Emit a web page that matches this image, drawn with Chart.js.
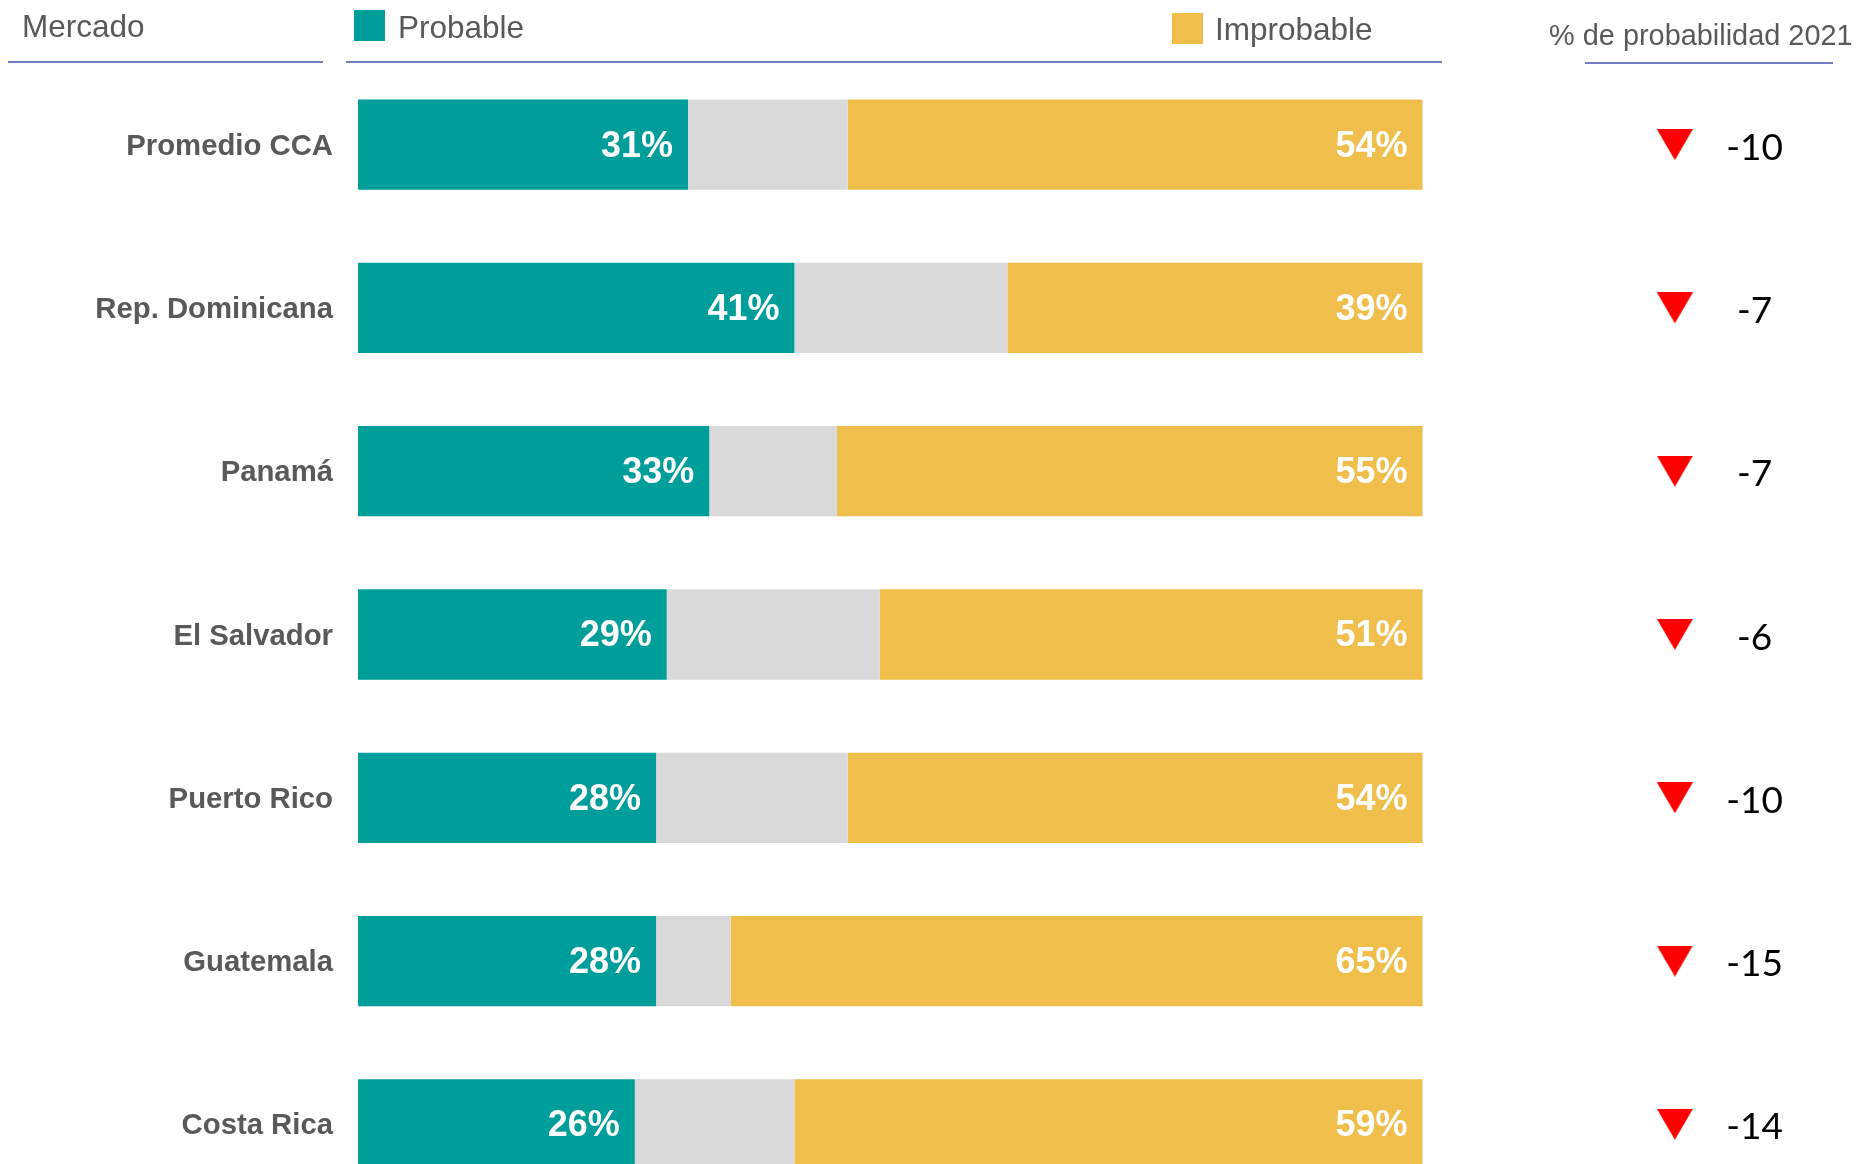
<!DOCTYPE html>
<html lang="es">
<head>
<meta charset="utf-8">
<title>Probabilidad por mercado</title>
<script src="https://cdn.jsdelivr.net/npm/chart.js@4.4.1/dist/chart.umd.min.js"></script>
<style>
  html, body { margin: 0; padding: 0; background: #fff; }
  #frame { position: relative; width: 1859px; height: 1164px; overflow: hidden;
           font-family: "Liberation Sans", Arial, sans-serif; color: #595959; }
  #chart { position: absolute; left: 0; top: 0; }
  .hd { position: absolute; white-space: nowrap; line-height: 1; }
  .rule { position: absolute; height: 2px; background: #6e7ec0; }
  .swatch { position: absolute; width: 31px; height: 31px; }
</style>
</head>
<body>
<div id="frame">
  <!-- canvas is a bit taller than the frame: the last row is cut off, as in the original -->
  <canvas id="chart" width="1859" height="1206"></canvas>
  <div class="hd" style="left:22px; top:11px; font-size:31.5px;">Mercado</div>
  <div class="rule" style="left:8px; top:61px; width:315px;"></div>
  <div class="swatch" id="swProb" style="left:354px; top:10px;"></div>
  <div class="hd" style="left:398px; top:12px; font-size:31.5px;">Probable</div>
  <div class="swatch" id="swImp" style="left:1172px; top:13px;"></div>
  <div class="hd" style="left:1215px; top:14px; font-size:31.5px;">Improbable</div>
  <div class="rule" style="left:346px; top:61px; width:1096px;"></div>
  <div class="hd" style="left:1549px; top:21px; font-size:28.9px;">% de probabilidad 2021</div>
  <div class="rule" style="left:1585px; top:62px; width:248px;"></div>
</div>
<script>
// markets, top to bottom
const mercados = [
  'Promedio CCA',
  'Rep. Dominicana',
  'Panamá',
  'El Salvador',
  'Puerto Rico',
  'Guatemala',
  'Costa Rica'
];
// share of answers (%)
const probable = [31, 41, 33, 29, 28, 28, 26];
const neutral = [15, 20, 12, 20, 18, 7, 15];
const improbable = [54, 39, 55, 51, 54, 65, 59];
// change in points vs 2021
const cambio2021 = [-10, -7, -7, -6, -10, -15, -14];

const TEAL = '#009E9A';
const GREY = '#D9D9D9';
const GOLD = '#F0BE4B';
const RED = '#FF0000';

// the x axis runs past 100 so the change column sits on the same scale
const X_MAX = 141;
const ARROW_X = 123.7;
const DELTA_X = 131.2;

document.getElementById('swProb').style.background = TEAL;
document.getElementById('swImp').style.background = GOLD;

// down arrow used as the point style (36 x 31, filled to the edges)
function downArrow(w, h, color) {
  const c = document.createElement('canvas');
  c.width = w;
  c.height = h;
  const g = c.getContext('2d');
  g.fillStyle = color;
  g.beginPath();
  g.moveTo(0, 0);
  g.lineTo(w, 0);
  g.lineTo(w / 2, h);
  g.closePath();
  g.fill();
  return c;
}

Chart.defaults.font.family = '"Liberation Sans", Arial, sans-serif';

// white % labels at the right end of the teal and gold segments
const segmentLabels = {
  id: 'segmentLabels',
  afterDatasetsDraw(chart) {
    const ctx = chart.ctx;
    ctx.save();
    ctx.font = 'bold 36px "Liberation Sans", Arial, sans-serif';
    ctx.fillStyle = '#ffffff';
    ctx.textAlign = 'right';
    ctx.textBaseline = 'middle';
    [0, 2].forEach(di => {
      const values = chart.data.datasets[di].data;
      chart.getDatasetMeta(di).data.forEach((bar, i) => {
        ctx.fillText(values[i] + '%', bar.x - 15, bar.y + 2);
      });
    });
    // change numbers next to the arrows
    ctx.font = '37px Lato, "Liberation Sans", sans-serif';
    ctx.fillStyle = '#000000';
    ctx.textAlign = 'center';
    ctx.textBaseline = 'alphabetic';
    const xs = chart.scales.x, ys = chart.scales.y;
    cambio2021.forEach((v, i) => {
      ctx.fillText(String(v), xs.getPixelForValue(DELTA_X), ys.getPixelForValue(i) + 15);
    });
    ctx.restore();
  }
};

new Chart(document.getElementById('chart'), {
  type: 'bar',
  data: {
    labels: mercados,
    datasets: [
      { label: 'Probable', data: probable, backgroundColor: TEAL },
      { label: 'Neutral', data: neutral, backgroundColor: GREY },
      { label: 'Improbable', data: improbable, backgroundColor: GOLD },
      {
        type: 'scatter',
        label: 'Cambio 2021',
        stack: 'cambio',
        data: mercados.map(m => ({ x: ARROW_X, y: m })),
        pointStyle: downArrow(36, 31, RED),
        radius: 18,
        hoverRadius: 18
      }
    ]
  },
  options: {
    indexAxis: 'y',
    responsive: false,
    devicePixelRatio: 1,
    animation: false,
    events: [],
    datasets: {
      bar: { categoryPercentage: 1, barPercentage: 0.553, borderWidth: 0 }
    },
    layout: {
      autoPadding: false,
      padding: { top: 63, bottom: 0, left: 0, right: 0 }
    },
    plugins: {
      legend: { display: false },
      tooltip: { enabled: false }
    },
    scales: {
      x: {
        stacked: true,
        min: 0,
        max: X_MAX,
        display: false,
        ticks: { display: false },
        grid: { display: false }
      },
      y: {
        stacked: true,
        grid: { display: false, drawTicks: false },
        border: { display: false },
        ticks: {
          padding: 25,
          labelOffset: 2,
          color: '#595959',
          font: { size: 29.3, weight: 'bold' }
        },
        afterFit(scale) {
          scale.width = 358;
          scale.paddingTop = 0;
          scale.paddingBottom = 0;
        }
      }
    }
  },
  plugins: [segmentLabels]
});
</script>
</body>
</html>
